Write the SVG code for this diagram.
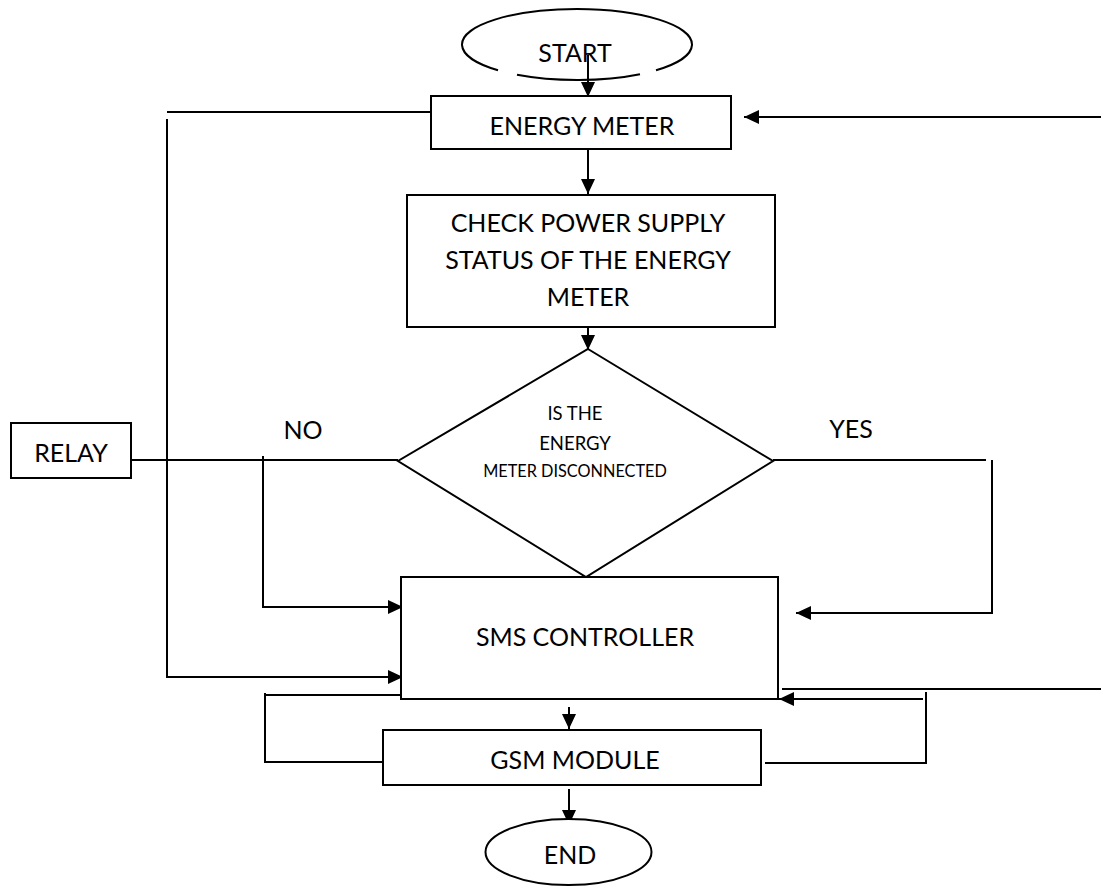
<svg xmlns="http://www.w3.org/2000/svg" width="1101" height="886" viewBox="0 0 1101 886">
<style>
.box{fill:#fff;stroke:#000;stroke-width:2}
.ln{fill:none;stroke:#000;stroke-width:2}
.t{font-family:Lato,"Liberation Sans",sans-serif;fill:#000;text-anchor:middle}
.big{font-size:25px}
.mid{font-size:18.5px}
.sm{font-size:16.3px}
</style>
<defs>
<marker id="ah" markerUnits="userSpaceOnUse" markerWidth="16" markerHeight="16" viewBox="0 0 16 16" refX="15" refY="8" orient="auto">
<path d="M0,1 L15,8 L0,15 Z" fill="#000"/>
</marker>
</defs>
<rect width="1101" height="886" fill="#fff"/>
<g id="start">
<path class="ln" d="M498,70.3 A115,35.5 0 1 1 656,70.3 M517,74.8 A115,35.5 0 0 0 640,74.2"/>
<text class="t big" x="575" y="62">START</text>
</g>
<g id="connectors">
<line class="ln" x1="588" y1="55" x2="588" y2="97" marker-end="url(#ah)"/>
<line class="ln" x1="588" y1="149" x2="588" y2="194" marker-end="url(#ah)"/>
<line class="ln" x1="588" y1="327" x2="588" y2="350" marker-end="url(#ah)"/>
<line class="ln" x1="1101" y1="117" x2="744" y2="117" marker-end="url(#ah)"/>
<polyline class="ln" points="431,112 167,112"/>
<polyline class="ln" points="167,119 167,677 403,677" marker-end="url(#ah)"/>
<line class="ln" x1="131" y1="460" x2="398" y2="460"/>
<polyline class="ln" points="263,456 263,607 403,607" marker-end="url(#ah)"/>
<line class="ln" x1="773" y1="460" x2="986" y2="460"/>
<polyline class="ln" points="992,460 992,613 796,613" marker-end="url(#ah)"/>
<line class="ln" x1="569" y1="707" x2="569" y2="729" marker-end="url(#ah)"/>
<line class="ln" x1="569" y1="789" x2="569" y2="825" marker-end="url(#ah)"/>
<polyline class="ln" points="388,762 265,762 265,693"/>
<line class="ln" x1="265" y1="695" x2="402" y2="695"/>
<line class="ln" x1="782" y1="689" x2="1101" y2="689"/>
<polyline class="ln" points="765,763 926,763 926,692"/>
<line class="ln" x1="923" y1="699" x2="779" y2="699" marker-end="url(#ah)"/>
</g>
<g id="energy-meter">
<rect class="box" x="431" y="96" width="300" height="53"/>
<text class="t big" x="582" y="135">ENERGY METER</text>
</g>
<g id="check">
<rect class="box" x="407" y="195" width="368" height="132"/>
<text class="t big" x="588" y="232">CHECK POWER SUPPLY</text>
<text class="t big" x="588" y="269">STATUS OF THE ENERGY</text>
<text class="t big" x="588" y="306">METER</text>
</g>
<g id="decision">
<polygon class="box" points="588,349 773,461 586,577 398,461"/>
<text class="t mid" x="575" y="420">IS THE</text>
<text class="t mid" x="575" y="450">ENERGY</text>
<text class="t sm" x="575" y="477">METER DISCONNECTED</text>
</g>
<g id="labels">
<text class="t big" x="303" y="439">NO</text>
<text class="t big" x="851" y="438">YES</text>
</g>
<g id="relay">
<rect class="box" x="11" y="423" width="120" height="55"/>
<text class="t big" x="71" y="462">RELAY</text>
</g>
<g id="sms-controller">
<rect class="box" x="401" y="577" width="377" height="122"/>
<text class="t big" x="585" y="646">SMS CONTROLLER</text>
</g>
<g id="gsm-module">
<rect class="box" x="383" y="730" width="378" height="55"/>
<text class="t big" x="575" y="769">GSM MODULE</text>
</g>
<g id="end">
<ellipse class="box" cx="568.5" cy="852" rx="83" ry="33"/>
<text class="t big" x="570" y="864">END</text>
</g>
</svg>
